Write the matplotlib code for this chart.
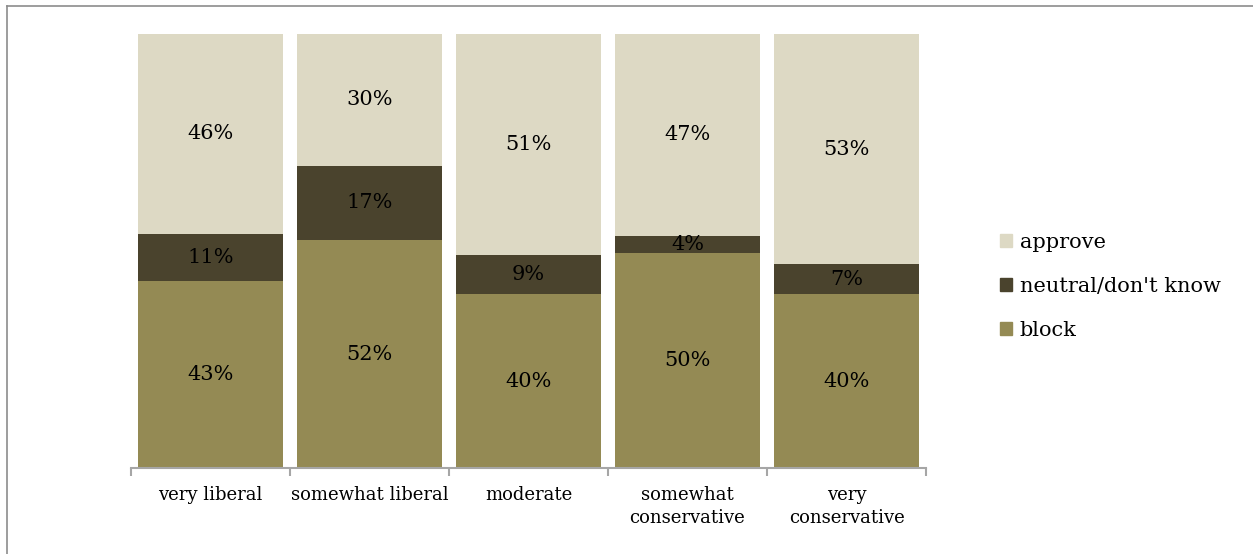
import numpy as np
import matplotlib.pyplot as plt
from matplotlib.lines import Line2D
from matplotlib.patches import Patch

# survey shares by political leaning (percent, as reported)
categories = ["very liberal", "somewhat liberal", "moderate",
              "somewhat\nconservative", "very\nconservative"]
block = [43, 52, 40, 50, 40]
neutral = [11, 17, 9, 4, 7]
approve = [46, 30, 51, 47, 53]

COL_BLOCK = "#948A54"
COL_NEUTRAL = "#4A432D"
COL_APPROVE = "#DDD9C4"
AXIS_GRAY = "#A6A6A6"

plt.rcParams["font.family"] = ["DejaVu Serif"]

fig = plt.figure(figsize=(12.53, 5.54), dpi=100)
ax = fig.add_axes([131 / 1253, 86 / 554, 795 / 1253, 434 / 554])

x = np.arange(len(categories))
b = np.array(block, float)
n = np.array(neutral, float)
a = np.array(approve, float)
tot = b + n + a
# stacked to 100% of each bar
fb, fn, fa = b / tot, n / tot, a / tot

w = 0.91
ax.bar(x, fb, w, color=COL_BLOCK, label="block")
ax.bar(x, fn, w, bottom=fb, color=COL_NEUTRAL, label="neutral/don't know")
ax.bar(x, fa, w, bottom=fb + fn, color=COL_APPROVE, label="approve")

for i in range(len(x)):
    for val, bot, h in [(b[i], 0, fb[i]), (n[i], fb[i], fn[i]), (a[i], fb[i] + fn[i], fa[i])]:
        ax.text(x[i], bot + h / 2, f"{int(val)}%", ha="center", va="center",
                fontsize=15, color="black")

ax.set_xlim(-0.5, len(x) - 0.5)
ax.set_ylim(0, 1)
for s in ["top", "right", "left"]:
    ax.spines[s].set_visible(False)
ax.spines["bottom"].set_color(AXIS_GRAY)
ax.spines["bottom"].set_linewidth(1.5)
ax.set_yticks([])

ax.set_xticks(x)
ax.set_xticklabels(categories, fontsize=13, linespacing=1.35)
ax.tick_params(axis="x", which="major", length=0, pad=13)
ax.set_xticks(np.arange(-0.5, len(x)), minor=True)
ax.tick_params(axis="x", which="minor", length=6, width=1.5, color=AXIS_GRAY)
for lbl in ax.get_xticklabels():
    lbl.set_verticalalignment("top")

handles = [Patch(color=COL_APPROVE), Patch(color=COL_NEUTRAL), Patch(color=COL_BLOCK)]
fig.legend(handles, ["approve", "neutral/don't know", "block"],
           loc="center left", bbox_to_anchor=(981 / 1253, 1 - 286 / 554),
           frameon=False, fontsize=15, handlelength=0.6, handleheight=0.6,
           handletextpad=0.35, labelspacing=1.2)

# outer frame: top and left edges only
fig.add_artist(Line2D([6.5 / 1253, 1.0], [1 - 5.5 / 554, 1 - 5.5 / 554],
                      transform=fig.transFigure, color="#8C8C8C", lw=1.2))
fig.add_artist(Line2D([6.5 / 1253, 6.5 / 1253], [0, 1 - 5.5 / 554],
                      transform=fig.transFigure, color="#8C8C8C", lw=1.2))

fig.savefig("out.png", dpi=100)
